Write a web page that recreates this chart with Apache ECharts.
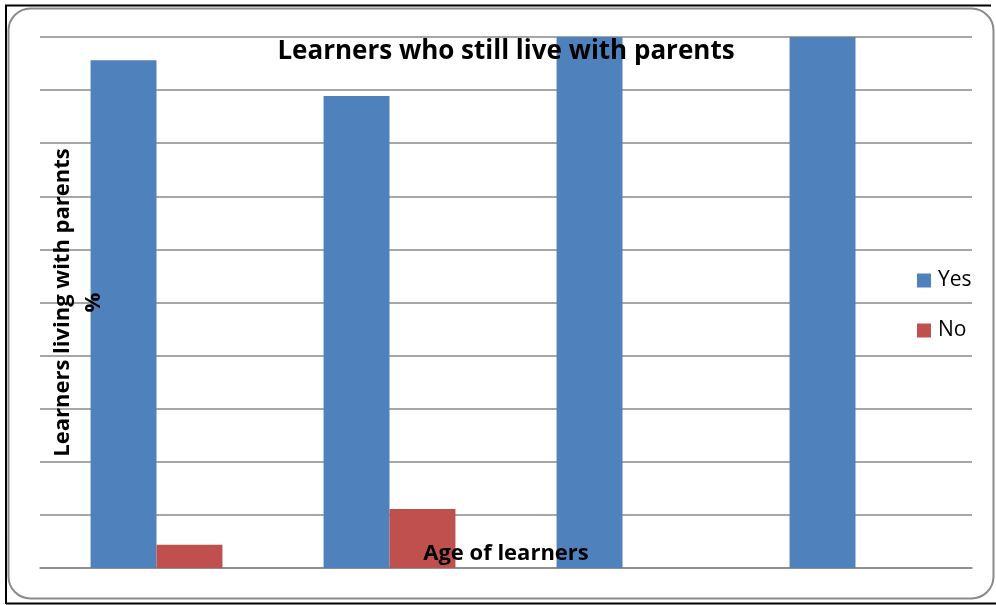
<!DOCTYPE html>
<html><head><meta charset="utf-8">
<script src="https://cdn.jsdelivr.net/npm/echarts@6/dist/echarts.min.js"></script>
<style>html,body{margin:0;padding:0;background:#fff}#c{width:996px;height:605px}</style>
</head><body><div id="c"></div>
<script>
const categories = ['A', 'B', 'C', 'D'];
const yesValues = [95.6, 88.9, 100, 100];
const noValues = [4.4, 11.1, 0, 0];
const seriesNames = ['Yes', 'No'];
const titleText = 'Learners who still live with parents';
const yTitle = 'Learners living with parents\n%';
const xTitle = 'Age of learners';

const chart = echarts.init(document.getElementById('c'), null, {renderer: 'canvas'});
const font = '"Open Sans", Lato, sans-serif';
const nameStyle = {fontFamily: font, fontWeight: 'bold', fontSize: 22, color: '#000'};
chart.setOption({
  animation: false,
  title: {text: titleText, left: 506, textAlign: 'center', top: 39, padding: 0,
    textStyle: {fontFamily: font, fontWeight: 'bold', fontSize: 26, color: '#000'}},
  legend: {orient: 'vertical', left: 917, top: 270, padding: 0, itemGap: 29, itemWidth: 14, itemHeight: 14,
    icon: 'rect', data: seriesNames,
    textStyle: {fontFamily: font, fontSize: 21, lineHeight: 20, color: '#000', padding: [0,0,0,2]}},
  grid: {left: 40, right: 24, top: 37, bottom: 37, outerBoundsMode: 'none', containLabel: false},
  xAxis: [
    {type: 'category', data: categories,
      axisLine: {lineStyle: {color: '#888', width: 1.5}}, axisTick: {show: false}, axisLabel: {show: false}},
    {type: 'category', data: categories, position: 'bottom', z: 10,
      axisLine: {show: false}, axisTick: {show: false}, axisLabel: {show: false}, splitLine: {show: false},
      name: xTitle, nameLocation: 'middle', nameGap: -25, nameTextStyle: nameStyle}
  ],
  yAxis: [
    {type: 'value', min: 0, max: 100, interval: 10,
      axisLabel: {show: false}, axisLine: {show: false}, axisTick: {show: false},
      splitLine: {lineStyle: {color: '#888', width: 1.5}}},
    {type: 'value', min: 0, max: 100, interval: 10, position: 'left', z: 10,
      axisLabel: {show: false}, axisLine: {show: false}, axisTick: {show: false}, splitLine: {show: false},
      name: yTitle, nameLocation: 'middle', nameRotate: 90, nameGap: -69,
      nameTextStyle: Object.assign({lineHeight: 31}, nameStyle)}
  ],
  series: [
    {name: seriesNames[0], type: 'bar', data: yesValues, barWidth: '28.3%', barGap: '0%',
      xAxisIndex: 0, yAxisIndex: 0, itemStyle: {color: '#4F81BD'}},
    {name: seriesNames[1], type: 'bar', data: noValues, barWidth: '28.3%', barGap: '0%',
      xAxisIndex: 0, yAxisIndex: 0, itemStyle: {color: '#C0504D'}}
  ],
  graphic: [
    {type: 'rect', z: -10, shape: {x: 8.5, y: 8.5, width: 985, height: 590, r: 22},
      style: {fill: 'none', stroke: '#8a8a8a', lineWidth: 2}},
    {type: 'polyline', z: 10, shape: {points: [[6, 604], [6, 5.5], [991, 5.5]]},
      style: {fill: 'none', stroke: '#000', lineWidth: 2}},
    {type: 'line', z: 10, shape: {x1: 6, y1: 603.5, x2: 996, y2: 603.5},
      style: {stroke: '#000', lineWidth: 2}}
  ]
});
</script></body></html>
